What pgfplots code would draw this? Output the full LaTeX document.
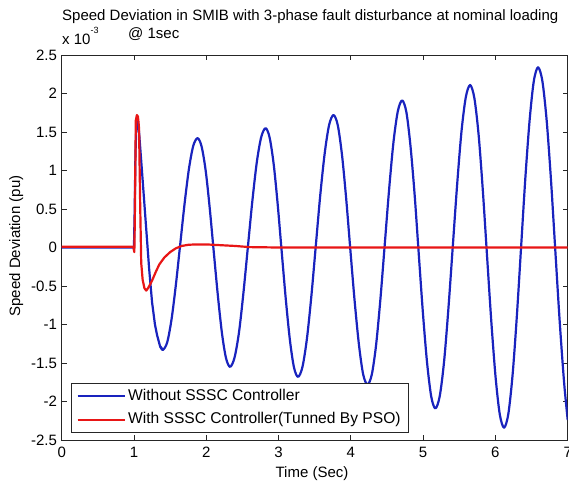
\documentclass[border=0pt]{standalone}
\usepackage{fontspec}
\setmainfont{Liberation Sans}
\usepackage{pgfplots}
\pgfplotsset{compat=1.18}
\definecolor{mblue}{RGB}{25,35,190}
\definecolor{mred}{RGB}{232,22,22}
\begin{document}
\fontsize{15bp}{18bp}\selectfont
\begin{tikzpicture}
\useasboundingbox (0,0) rectangle (569bp,484bp);
\begin{axis}[
  at={(61.7bp,44bp)}, anchor=south west,
  width=506bp, height=385bp, scale only axis,
  xmin=0, xmax=7, ymin=-2.5, ymax=2.5,
  xtick={0,1,2,3,4,5,6,7},
  xticklabels={0,1,2,3,4,5,6,7},
  ytick={-2.5,-2,-1.5,-1,-0.5,0,0.5,1,1.5,2,2.5},
  yticklabels={-2.5,-2,-1.5,-1,-0.5,0,0.5,1,1.5,2,2.5},
  scaled ticks=false,
  tick align=inside, major tick length=5bp,
  axis line style={line width=0.8bp, black!85},
  every tick/.style={line width=0.8bp, black!85},
  tick label style={font=\fontsize{15bp}{18bp}\selectfont},
  yticklabel style={inner xsep=0pt, xshift=-4.5bp},
  xticklabel style={inner ysep=0pt, yshift=-6.5bp},
  legend cell align=left,
  legend style={at={(rel axis cs:0,0)}, anchor=south west, xshift=9bp, yshift=7bp,
    font=\fontsize{15.6bp}{18bp}\selectfont, draw=black!85, line width=0.8bp,
    inner xsep=5.5bp, inner ysep=1bp, row sep=0bp,
    nodes={inner xsep=2.5bp, inner ysep=4.5bp, text height=11bp, text depth=3.5bp}},
  legend image code/.code={\draw[#1, line width=2bp] (0bp,0bp) -- (47bp,0bp);},
]
\addplot[mblue, line width=2.2bp, line join=round] coordinates {
(0,0) (0.99,0) (1.0,0.02) (1.01,0.5) (1.02,1.2) (1.035,1.65) (1.05,1.68) (1.07,1.5) (1.09,1.25) (1.11,1.0) (1.16,0.36) (1.21,-0.28) (1.25,-0.71) (1.29,-1.0) (1.32,-1.14) (1.36,-1.28) (1.40,-1.33)
};
\addlegendentry{Without SSSC Controller}
\addplot[mblue, line width=2.2bp, line join=round, smooth, tension=0.5, forget plot] coordinates {
(1.36,-1.28) (1.40,-1.33)
(1.46,-1.23)(1.52,-0.93)(1.58,-0.48)(1.64,0.045)(1.70,0.57)(1.76,1.02)(1.82,1.32)(1.88,1.42)
(1.936,1.31)(1.993,0.99)(2.049,0.50)(2.105,-0.07)(2.161,-0.63)(2.218,-1.12)(2.274,-1.44)(2.33,-1.55)
(2.391,-1.43)(2.453,-1.10)(2.514,-0.59)(2.575,0)(2.636,0.59)(2.698,1.10)(2.759,1.43)(2.82,1.55)
(2.876,1.43)(2.933,1.08)(2.989,0.55)(3.045,-0.07)(3.101,-0.68)(3.158,-1.21)(3.214,-1.56)(3.27,-1.68)
(3.331,-1.55)(3.393,-1.18)(3.454,-0.63)(3.515,0.02)(3.576,0.67)(3.638,1.22)(3.699,1.59)(3.76,1.72)
(3.819,1.59)(3.878,1.20)(3.936,0.63)(3.995,-0.05)(4.054,-0.71)(4.113,-1.27)(4.171,-1.65)(4.23,-1.78)
(4.29,-1.65)(4.35,-1.26)(4.41,-0.66)(4.47,0.05)(4.53,0.76)(4.59,1.37)(4.65,1.77)(4.71,1.91)
(4.768,1.76)(4.825,1.32)(4.883,0.68)(4.94,-0.09)(4.998,-0.86)(5.055,-1.50)(5.113,-1.94)(5.17,-2.09)
(5.23,-1.93)(5.29,-1.48)(5.35,-0.79)(5.41,0.01)(5.47,0.81)(5.53,1.50)(5.59,1.95)(5.65,2.11)
(5.709,1.94)(5.768,1.46)(5.826,0.74)(5.885,-0.12)(5.944,-0.97)(6.003,-1.69)(6.061,-2.17)(6.12,-2.34)
(6.179,-2.16)(6.238,-1.65)(6.296,-0.90)(6.355,0)(6.414,0.90)(6.473,1.65)(6.531,2.16)(6.59,2.34)
(6.65,2.16)(6.71,1.64)(6.77,0.86)(6.83,-0.06)(6.89,-0.97)(6.95,-1.75)(7.0,-2.24)
};
\addplot[mred, line width=2.2bp, line join=round] coordinates {
(0,0.01)(0.99,0.01)(1.005,-0.06)(1.012,0.4)(1.025,1.65)(1.04,1.72)(1.055,1.70)(1.07,1.55)(1.085,0.6)(1.1,-0.2)(1.12,-0.42)(1.145,-0.53)(1.17,-0.56)(1.2,-0.52)(1.25,-0.43)(1.3,-0.32)(1.35,-0.22)(1.42,-0.13)(1.5,-0.06)(1.58,-0.01)(1.66,0.02)(1.75,0.035)(1.85,0.04)(2.0,0.04)(2.2,0.03)(2.4,0.02)(2.6,0.005)(3.0,0)(7,0)
};
\addlegendentry{With SSSC Controller(Tunned By PSO)}
\end{axis}
\node[anchor=base west, inner sep=0pt] at (62bp,463bp) {Speed Deviation in SMIB with 3-phase fault disturbance at nominal loading};
\node[anchor=base west, inner sep=0pt] at (128bp,445bp) {@ 1sec};
\node[anchor=base west, inner sep=0pt] at (62bp,439bp) {x 10\raisebox{11bp}{\fontsize{9bp}{11bp}\selectfont -3}};
\node[anchor=base, inner sep=0pt] at (312bp,7bp) {Time (Sec)};
\node[anchor=base, inner sep=0pt, rotate=90] at (20bp,238bp) {Speed Deviation (pu)};
\end{tikzpicture}
\end{document}
